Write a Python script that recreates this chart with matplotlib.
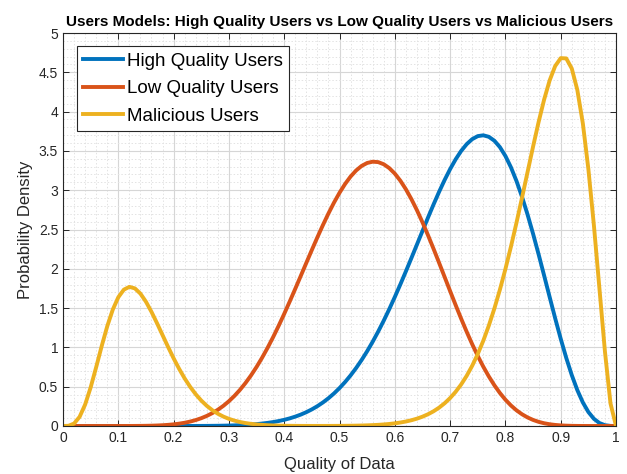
import matplotlib
matplotlib.use("Agg")
import matplotlib.pyplot as plt
from matplotlib.ticker import MultipleLocator, FuncFormatter

plt.rcParams['font.family'] = ['Liberation Sans', 'DejaVu Sans']

# quality of data, sampled every 0.01
quality = [round(i * 0.01, 2) for i in range(101)]

high_quality = [
    0, 0, 0, 0, 0, 0, 0, 0, 0, 0,
    0, 0, 0, 0, 0, 0, 0, 0, 0, 0,
    0.0001, 0.0002, 0.0003, 0.0004, 0.0007, 0.0010, 0.0014, 0.0021, 0.0029, 0.0041,
    0.0057, 0.0077, 0.0104, 0.0139, 0.0183, 0.0239, 0.0309, 0.0395, 0.0501, 0.0629,
    0.0784, 0.0970, 0.1192, 0.1452, 0.1758, 0.2113, 0.2524, 0.2995, 0.3532, 0.4140,
    0.4824, 0.5589, 0.6438, 0.7375, 0.8401, 0.9519, 1.0728, 1.2026, 1.3410, 1.4876,
    1.6415, 1.8018, 1.9675, 2.1371, 2.3089, 2.4811, 2.6517, 2.8183, 2.9785, 3.1295,
    3.2686, 3.3931, 3.5000, 3.5866, 3.6502, 3.6883, 3.6987, 3.6796, 3.6298, 3.5484,
    3.4352, 3.2911, 3.1172, 2.9160, 2.6907, 2.4451, 2.1842, 1.9137, 1.6399, 1.3694,
    1.1092, 0.8663, 0.6469, 0.4566, 0.2995, 0.1777, 0.0913, 0.0374, 0.0101, 0.0010,
    0,
]

low_quality = [
    0, 0, 0, 0, 0, 0, 0, 0, 0, 0,
    0.0001, 0.0002, 0.0004, 0.0008, 0.0014, 0.0024, 0.0039, 0.0063, 0.0096, 0.0144,
    0.0209, 0.0297, 0.0412, 0.0562, 0.0752, 0.0990, 0.1283, 0.1638, 0.2064, 0.2566,
    0.3153, 0.3829, 0.4600, 0.5470, 0.6442, 0.7514, 0.8687, 0.9956, 1.1315, 1.2757,
    1.4271, 1.5845, 1.7462, 1.9108, 2.0761, 2.2404, 2.4013, 2.5567, 2.7044, 2.8421,
    2.9675, 3.0787, 3.1739, 3.2512, 3.3092, 3.3467, 3.3630, 3.3575, 3.3302, 3.2811,
    3.2111, 3.1210, 3.0122, 2.8864, 2.7454, 2.5916, 2.4273, 2.2550, 2.0773, 1.8969,
    1.7163, 1.5381, 1.3645, 1.1976, 1.0394, 0.8912, 0.7545, 0.6300, 0.5184, 0.4198,
    0.3341, 0.2609, 0.1996, 0.1492, 0.1087, 0.0770, 0.0527, 0.0348, 0.0221, 0.0133,
    0.0075, 0.0040, 0.0019, 0.0008, 0.0003, 0.0001, 0, 0, 0, 0,
    0,
]

malicious = [
    0, 0.0026, 0.0310, 0.1165, 0.2726, 0.4912, 0.7493, 1.0180, 1.2693, 1.4809,
    1.6383, 1.7347, 1.7704, 1.7506, 1.6840, 1.5808, 1.4519, 1.3074, 1.1563, 1.0056,
    0.8612, 0.7268, 0.6050, 0.4972, 0.4035, 0.3235, 0.2564, 0.2010, 0.1558, 0.1195,
    0.0907, 0.0682, 0.0507, 0.0373, 0.0272, 0.0196, 0.0140, 0.0099, 0.0069, 0.0048,
    0.0033, 0.0022, 0.0015, 0.0010, 0.0008, 0.0007, 0.0007, 0.0008, 0.0009, 0.0013,
    0.0017, 0.0023, 0.0032, 0.0044, 0.0060, 0.0082, 0.0110, 0.0147, 0.0196, 0.0258,
    0.0338, 0.0440, 0.0569, 0.0730, 0.0933, 0.1184, 0.1493, 0.1871, 0.2332, 0.2888,
    0.3555, 0.4349, 0.5289, 0.6391, 0.7675, 0.9157, 1.0854, 1.2779, 1.4940, 1.7340,
    1.9974, 2.2826, 2.5865, 2.9046, 3.2304, 3.5550, 3.8675, 4.1539, 4.3978, 4.5803,
    4.6807, 4.6771, 4.5483, 4.2763, 3.8499, 3.2688, 2.5526, 1.7483, 0.9442, 0.2863,
    0,
]

labels = ['High Quality Users', 'Low Quality Users', 'Malicious Users']
colors = ['#0072BD', '#D95319', '#EDB120']

fig = plt.figure(figsize=(6.27, 4.74), dpi=100)
ax = fig.add_axes([0.1005, 0.1013, 0.882, 0.829])

for ys, lab, col in zip([high_quality, low_quality, malicious], labels, colors):
    ax.plot(quality, ys, color=col, linewidth=2.8, label=lab)

ax.set_xlim(0, 1)
ax.set_ylim(0, 5)
ax.xaxis.set_major_locator(MultipleLocator(0.1))
ax.xaxis.set_minor_locator(MultipleLocator(0.02))
ax.yaxis.set_major_locator(MultipleLocator(0.5))
ax.yaxis.set_minor_locator(MultipleLocator(0.1))
fmt = FuncFormatter(lambda v, p: ('%.1f' % v).rstrip('0').rstrip('.') if v != 0 else '0')
ax.xaxis.set_major_formatter(fmt)
ax.yaxis.set_major_formatter(fmt)

ax.grid(which='major', color='#d6d6d6', linewidth=0.8, linestyle='-')
ax.grid(which='minor', color='#e3e3e3', linewidth=0.7, linestyle=(0, (1.5, 2)))
ax.set_axisbelow(True)

ax.tick_params(which='major', direction='in', length=4, width=0.7, top=True, right=True,
               labelsize=10, colors='#262626')
ax.tick_params(which='minor', length=0, top=True, right=True)
for sp in ax.spines.values():
    sp.set_color('#262626')
    sp.set_linewidth(0.8)

ax.set_title('Users Models: High Quality Users vs Low Quality Users vs Malicious Users',
             fontsize=11, fontweight='bold', pad=5)
ax.set_xlabel('Quality of Data', fontsize=12, color='#262626', labelpad=9)
ax.set_ylabel('Probability Density', fontsize=12, color='#262626', labelpad=4)

leg = ax.legend(loc='upper left', bbox_to_anchor=(0.025, 0.967), borderaxespad=0,
                fontsize=13.5, handlelength=2.1, handletextpad=0.2, labelspacing=0.55,
                borderpad=0.35, fancybox=False, framealpha=1, edgecolor='#262626')
leg.get_frame().set_linewidth(0.8)

fig.savefig('out.png', dpi=100)
